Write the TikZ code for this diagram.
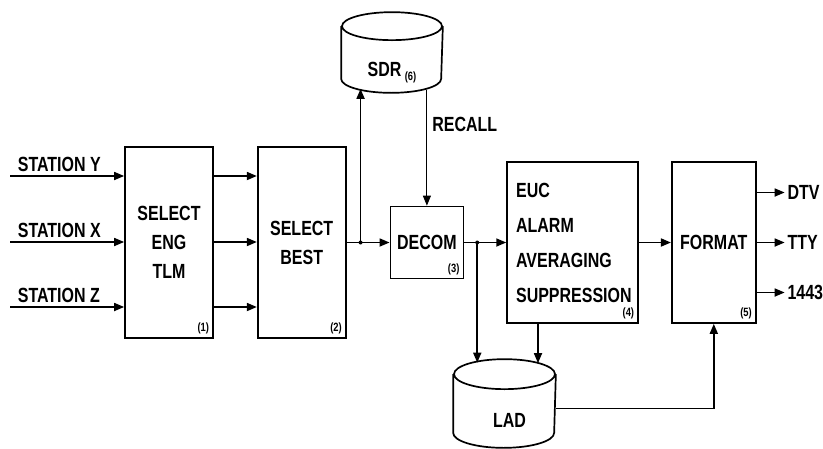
\documentclass[tikz,border=0pt]{standalone}
\usepackage{fontspec}
\setmainfont{Liberation Sans}[FakeStretch=0.78]
\usetikzlibrary{arrows.meta,positioning,calc}
% outline of a disk drum round an (undrawn) node: #1 name, #2 x radius, #3 y radius
\newcommand\drumoutline[3]{%
  \draw (#1.north west) -- (#1.south west)
        arc[start angle=180,end angle=360,x radius=#2,y radius=#3] -- (#1.north east);
  \draw (#1.north) ellipse[x radius=#2,y radius=#3];}

\begin{document}
\begin{tikzpicture}[x=1pt,y=-1pt,line width=1.7pt,
   font=\fontsize{20.5}{29}\selectfont\bfseries,
   >={Triangle[length=10pt,width=8pt]},
   blk/.style={draw,rectangle,inner sep=0pt,align=center},
   disk/.style={rectangle,inner sep=0pt},
   tag/.style={font=\fontsize{12}{12}\selectfont\bfseries,anchor=south east,inner sep=4pt},
   dot/.style={circle,fill,inner sep=0pt,minimum size=4pt}]
  \useasboundingbox (0,0) rectangle (823,448);
  % processing blocks
  \node[blk,minimum width=88pt,minimum height=191pt] (eng) at (169,242.5) {SELECT\\ENG\\TLM};
  \node[blk,minimum width=88pt,minimum height=191pt,right=43pt of eng] (best) {SELECT\\BEST};
  \node[blk,minimum width=73pt,minimum height=72pt,right=43pt of best] (decom) {DECOM};
  \node[blk,minimum width=131pt,minimum height=161pt,right=42pt of decom,
        align=left,text width=113pt,font=\fontsize{20.5}{35}\selectfont\bfseries] (proc)
    {EUC\\ALARM\\AVERAGING\\SUPPRESSION};
  \node[blk,minimum width=84pt,minimum height=161pt,right=32pt of proc] (fmt) {FORMAT};
  \foreach \b/\n in {eng/1,best/2,decom/3,proc/4,fmt/5}
    \node[tag] at (\b.south east) {(\n)};
  % disks
  \node[disk,minimum width=100pt,minimum height=51pt,
        label={[yshift=-20pt]center:SDR\,\raisebox{-4pt}{\fontsize{12}{12}\selectfont(6)}}] (sdr) at (392,52.5) {};
  \drumoutline{sdr}{50pt}{14pt}
  \node[disk,minimum width=101pt,minimum height=57pt,
        label={[yshift=-16.5pt,xshift=5pt]center:LAD}] (lad) at (504.5,403.5) {};
  \drumoutline{lad}{50.5pt}{15pt}
  % inputs
  \foreach \yy/\txt [count=\i] in {176/Y,242/X,307/Z} {
    \coordinate (in\i) at (10,\yy);
    \draw[->] (in\i) -- (in\i -| eng.west);
    \node[anchor=south west,inner sep=1pt] at ($(in\i)+(6,-2)$) {STATION \txt};
    \draw[->] (eng.east |- in\i) -- (best.west |- in\i);
  }
  % main flow
  \draw[->] (best) -- (decom);
  \coordinate (j1) at ($(best.east)+(14,0)$);
  \node[dot] at (j1) {};
  \draw[->] (j1) -- ($(j1 |- sdr.south)+(0,10)$);
  \draw[->,line width=0.9pt] ($(decom.north |- sdr.south)+(0,11)$) -- (decom.north)
    node[pos=0.3,anchor=west,inner sep=5pt] {RECALL};
  \draw[->] (decom) -- (proc);
  \coordinate (j2) at ($(decom.east)+(13,0)$);
  \node[dot] at (j2) {};
  \draw[->] (j2) -- ($(j2 |- lad.north)+(0,-11.5)$);
  \coordinate (p) at ($(lad.north)+(33.5,-11)$);
  \draw[->] (proc.south -| p) -- (p);
  \draw[->] (proc) -- (fmt);
  \draw[->] ($(lad.east)+(0,5)$) -| (fmt.south);
  % outputs
  \foreach \yy/\txt in {-50/DTV,0/TTY,50/1443}
    \draw[->] ($(fmt.east)+(0,\yy)$) -- ++(28,0) node[right,inner sep=2pt] {\txt};
\end{tikzpicture}
\end{document}
